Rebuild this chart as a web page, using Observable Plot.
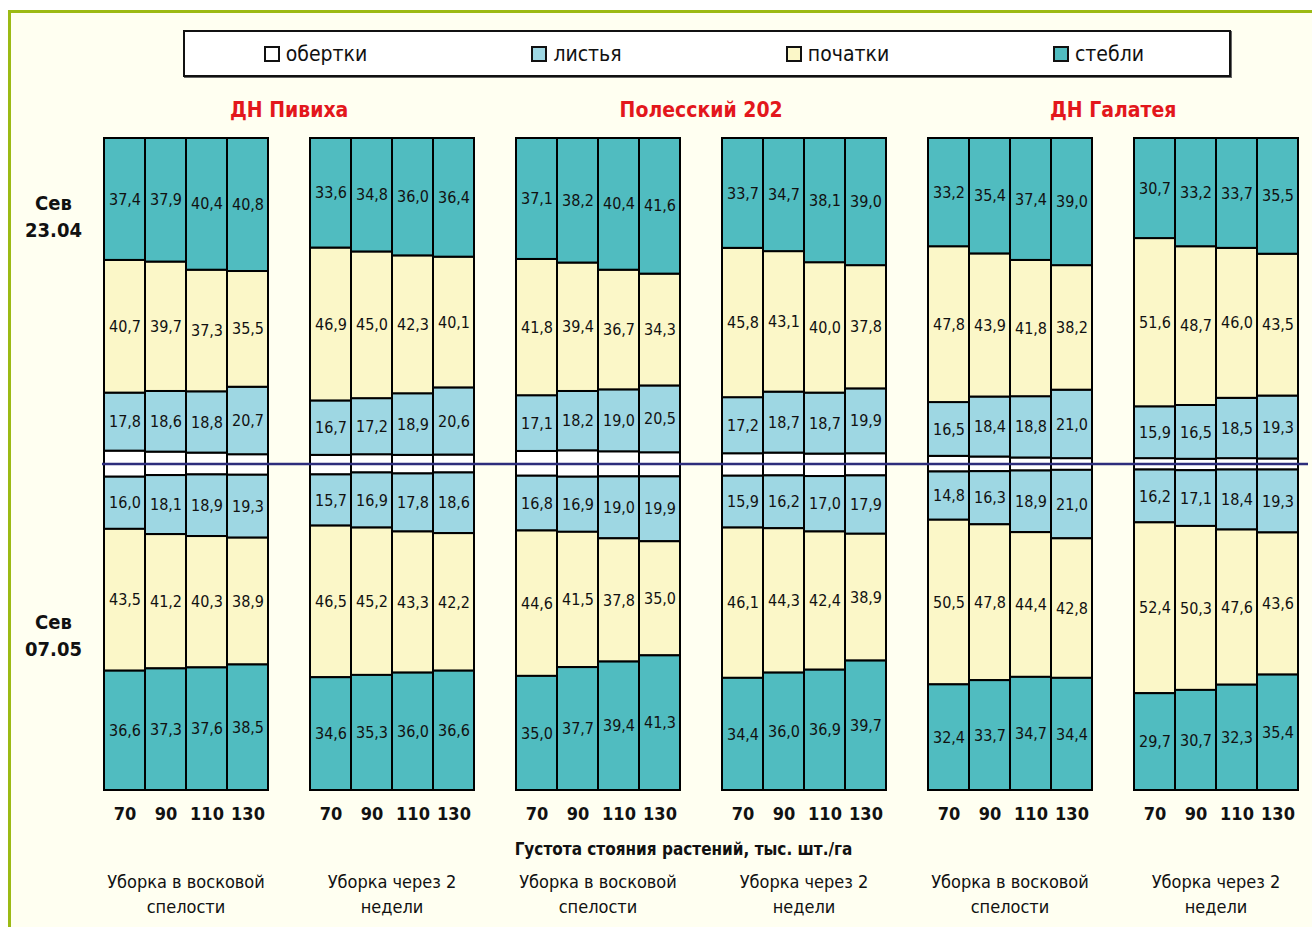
<!DOCTYPE html>
<html>
<head>
<meta charset="utf-8">
<script src="https://cdn.jsdelivr.net/npm/d3@7"></script>
<script src="https://cdn.jsdelivr.net/npm/@observablehq/plot@0.6"></script>
<style>
  html, body { margin: 0; padding: 0; background: #ffffff; }
  body { width: 1312px; height: 927px; overflow: hidden; position: relative;
         font-family: "Liberation Sans Narrow", "Arial Narrow", "DejaVu Sans Condensed", sans-serif; }
  #frame { position: absolute; left: 8px; top: 10px; width: 1340px; height: 960px;
           border: 3px solid #9cba14; background: #fffff1; box-sizing: border-box; }
  #chart { position: absolute; left: 0; top: 0; }
  #chart svg { display: block; }
  #legend { position: absolute; left: 183px; top: 30px; width: 1048px; height: 47px;
            box-sizing: border-box; border: 2px solid #111; background: #ffffff;
            box-shadow: 1px 1px 0 #666; display: flex; align-items: center; }
  #legend .item { flex: 1; display: flex; justify-content: center; align-items: center;
                  font-size: 21px; color: #111; }
  #legend .sw { width: 12px; height: 12px; border: 2px solid #111; margin-right: 6px; box-sizing: content-box; }
</style>
</head>
<body>
<div id="frame"></div>
<div id="chart"></div>
<div id="legend"></div>
<script>
// ---------- data ----------
const hybrids = ["ДН Пивиха", "Полесский 202", "ДН Галатея"];
const harvests = ["Уборка в восковой\nспелости", "Уборка через 2\nнедели"];
const groups = ["Пивиха-воск", "Пивиха-2нед", "Полесский-воск", "Полесский-2нед", "Галатея-воск", "Галатея-2нед"];
const densities = [70, 90, 110, 130];
const parts = ["обертки", "листья", "початки", "стебли"];
const sowings = ["Сев\n23.04", "Сев\n07.05"];
const axisTitle = "Густота стояния растений, тыс. шт./га";

// Сев 23.04 (upper half), per group × density, %
const stemsA  = [[37.4,37.9,40.4,40.8],[33.6,34.8,36.0,36.4],[37.1,38.2,40.4,41.6],[33.7,34.7,38.1,39.0],[33.2,35.4,37.4,39.0],[30.7,33.2,33.7,35.5]];
const cobsA   = [[40.7,39.7,37.3,35.5],[46.9,45.0,42.3,40.1],[41.8,39.4,36.7,34.3],[45.8,43.1,40.0,37.8],[47.8,43.9,41.8,38.2],[51.6,48.7,46.0,43.5]];
const leavesA = [[17.8,18.6,18.8,20.7],[16.7,17.2,18.9,20.6],[17.1,18.2,19.0,20.5],[17.2,18.7,18.7,19.9],[16.5,18.4,18.8,21.0],[15.9,16.5,18.5,19.3]];
const wrapsA  = [[4.1,3.8,3.5,3.0],[2.8,3.0,2.8,2.9],[4.0,4.2,3.9,3.6],[3.3,3.5,3.2,3.3],[2.5,2.3,2.0,1.8],[1.8,1.6,1.8,1.7]];

// Сев 07.05 (lower half)
const stemsB  = [[36.6,37.3,37.6,38.5],[34.6,35.3,36.0,36.6],[35.0,37.7,39.4,41.3],[34.4,36.0,36.9,39.7],[32.4,33.7,34.7,34.4],[29.7,30.7,32.3,35.4]];
const cobsB   = [[43.5,41.2,40.3,38.9],[46.5,45.2,43.3,42.2],[44.6,41.5,37.8,35.0],[46.1,44.3,42.4,38.9],[50.5,47.8,44.4,42.8],[52.4,50.3,47.6,43.6]];
const leavesB = [[16.0,18.1,18.9,19.3],[15.7,16.9,17.8,18.6],[16.8,16.9,19.0,19.9],[15.9,16.2,17.0,17.9],[14.8,16.3,18.9,21.0],[16.2,17.1,18.4,19.3]];
const wrapsB  = [[3.9,3.4,3.2,3.3],[3.2,2.6,2.9,2.6],[3.6,3.9,3.8,3.8],[3.6,3.5,3.7,3.5],[2.3,2.2,2.0,1.8],[1.7,1.9,1.7,1.7]];

const colors = ["#ffffff", "#9ed7e3", "#fbf7c8", "#50bcc0"];

// ---------- table ----------
const seriesA = [wrapsA, leavesA, cobsA, stemsA];
const seriesB = [wrapsB, leavesB, cobsB, stemsB];
const rows = [];
[seriesA, seriesB].forEach((series, s) => {
  series.forEach((arr, p) => {
    arr.forEach((vals, g) => {
      vals.forEach((v, d) => {
        rows.push({sowing: s, group: groups[g], density: densities[d], part: parts[p],
                   value: v, signed: s === 0 ? v : -v});
      });
    });
  });
});
const fmt = v => v.toFixed(1).replace(".", ",");

const groupRows = groups.map((g, i) => ({group: g, harvest: harvests[i % 2]}));
const hybridRows = hybrids.map((h, i) => ({group: groups[i * 2], hybrid: h}));

// ---------- layout ----------
const W = 1312, H = 927;
const mL = 101, mR = 12, mT = 138, mB = 137;
const unit = (W - mL - mR) / 29; // 24 bars + 5 gaps

const font = '"Liberation Sans Narrow", "Arial Narrow", "DejaVu Sans Condensed", sans-serif';

const plot = Plot.plot({
  width: W, height: H,
  marginLeft: mL, marginRight: mR, marginTop: mT, marginBottom: mB,
  style: {background: "transparent", fontFamily: font, overflow: "visible", color: "#111"},
  fx: {domain: groups, paddingInner: 0.2, paddingOuter: 0, axis: null, label: null},
  x: {domain: densities, padding: 0, label: null},
  y: {domain: [-100, 100], axis: null},
  color: {domain: parts, range: colors},
  marks: [
    Plot.barY(rows, {fx: "group", x: "density", y: "signed", z: "part", fill: "part",
                     order: parts, stroke: "#000", strokeWidth: 2}),
    Plot.text(rows, Plot.stackY({fx: "group", x: "density", y: "signed", z: "part", order: parts,
                     text: d => d.part === "обертки" ? null : fmt(d.value),
                     fontSize: 16, fill: "#111"})),
    Plot.axisX({tickSize: 0, tickPadding: 17, fontSize: 18, fontWeight: "bold", label: null}),
    Plot.text(hybridRows, {fx: "group", text: "hybrid", frameAnchor: "top-right", textAnchor: "middle",
                     dx: unit / 2, dy: -28, lineAnchor: "middle", fontSize: 21, fontWeight: "bold", fill: "#e3171c"}),
    Plot.text(groupRows, {fx: "group", text: "harvest", frameAnchor: "bottom", textAnchor: "middle",
                     dy: 102, lineAnchor: "middle", fontSize: 18, lineHeight: 1.38, fill: "#111"}),
    Plot.text([{group: groups[0], t: sowings[0]}], {fx: "group", text: "t", frameAnchor: "top-left",
                     textAnchor: "middle", dx: -50, dy: 76, lineAnchor: "middle", fontSize: 20,
                     fontWeight: "bold", lineHeight: 1.38, fill: "#111"}),
    Plot.text([{group: groups[0], t: sowings[1]}], {fx: "group", text: "t", frameAnchor: "bottom-left",
                     textAnchor: "middle", dx: -50, dy: -157, lineAnchor: "middle", fontSize: 20,
                     fontWeight: "bold", lineHeight: 1.38, fill: "#111"}),
    Plot.text([{group: groups[2], t: axisTitle}], {fx: "group", text: "t", frameAnchor: "bottom-right",
                     textAnchor: "middle", dx: 3, dy: 59, lineAnchor: "middle", fontSize: 17,
                     fontWeight: "bold", fill: "#111"})
  ]
});
document.getElementById("chart").appendChild(plot);

// continuous zero line across all panels, drawn on top
const fx = plot.scale("fx"), y = plot.scale("y");
const y0 = y.apply(0);
d3.select(plot).append("line")
  .attr("x1", fx.apply(groups[0]) - 1)
  .attr("x2", fx.apply(groups[groups.length - 1]) + fx.bandwidth + 10)
  .attr("y1", y0).attr("y2", y0)
  .attr("stroke", "#2d2d7c").attr("stroke-width", 2.5);

// legend
const legend = d3.select("#legend");
parts.forEach((p, i) => {
  const it = legend.append("div").attr("class", "item");
  it.append("div").attr("class", "sw").style("background", colors[i]);
  it.append("span").text(p);
});
</script>
</body>
</html>
